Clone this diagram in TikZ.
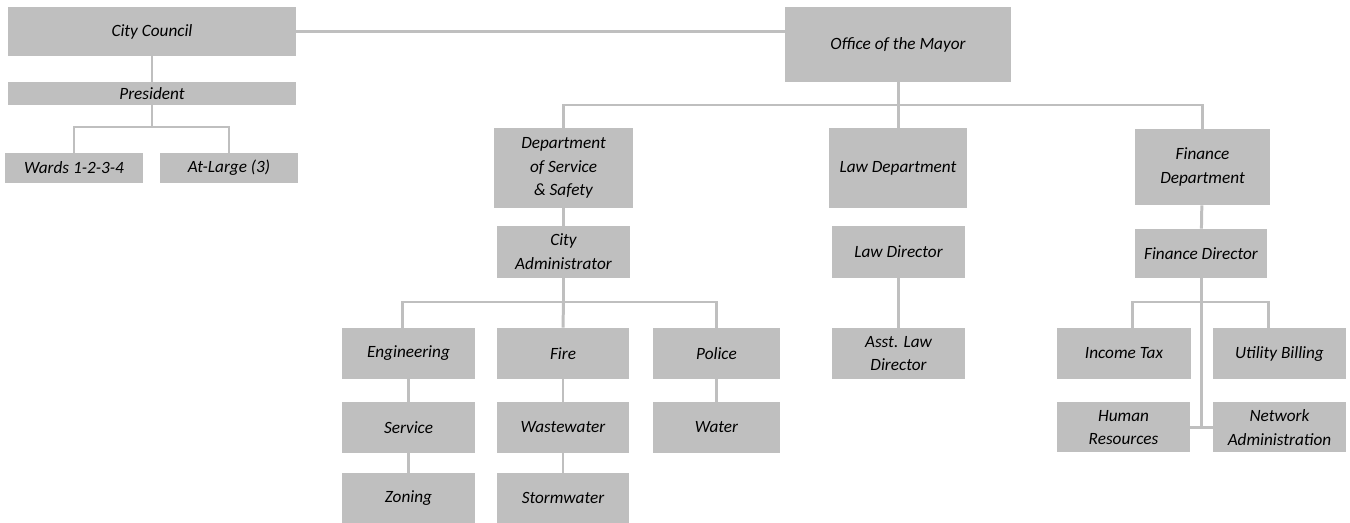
\documentclass[tikz,border=0pt]{standalone}
\usepackage{fontspec}
\setmainfont{Carlito}
\usepackage{tikz}
\usetikzlibrary{calc}
\definecolor{boxgray}{HTML}{BFBFBF}
\definecolor{linkgray}{HTML}{BFBFBF}

\begin{document}
\begin{tikzpicture}[x=0.02cm,y=-0.02cm,
  font=\fontsize{9.8}{13.5}\selectfont\itshape,
  orgbox/.style 2 args={fill=boxgray,inner sep=0pt,align=center,
    minimum width=#1*0.02cm,minimum height=#2*0.02cm},
  link/.style={draw=linkgray,line width=1.7pt}]
\useasboundingbox (0,0) rectangle (1350,523);

% council side
\node[orgbox={288}{49}] (council) at (152,31.5) {City Council};
\node[orgbox={288}{23}] (president) at (152,93.5) {President};
\node[orgbox={138}{30}] (wards) at (74,168) {Wards 1-2-3-4};
\node[orgbox={138}{30}] (atlarge) at (229,168) {At-Large (3)};

% mayor and departments
\node[orgbox={226}{75}] (mayor) at (898,44.5) {Office of the Mayor};
\node[orgbox={139}{80}] (safety) at (563.5,168) {Department\\of Service\\\& Safety};
\node[orgbox={138}{80}] (law) at (898,168) {Law Department};
\node[orgbox={135}{76}] (finance) at (1202.5,167) {Finance\\Department};

\node[orgbox={133}{52}] (cityadmin) at (563.5,252) {City\\Administrator};
\node[orgbox={133}{52}] (lawdir) at (898.5,252) {Law Director};
\node[orgbox={132}{49}] (findir) at (1201,253.5) {Finance Director};

% service & safety divisions
\node[orgbox={133}{51}] (engineering) at (408.5,353.5) {Engineering};
\node[orgbox={132}{51}] (fire) at (563,353.5) {Fire};
\node[orgbox={127}{51}] (police) at (716.5,353.5) {Police};
\node[orgbox={133}{51}] (service) at (408.5,427.5) {Service};
\node[orgbox={132}{51}] (wastewater) at (563,427.5) {Wastewater};
\node[orgbox={127}{51}] (water) at (716.5,427.5) {Water};
\node[orgbox={133}{50}] (zoning) at (408.5,498) {Zoning};
\node[orgbox={132}{50}] (stormwater) at (563,498) {Stormwater};

% law and finance divisions
\node[orgbox={133}{51}] (asstlaw) at (898.5,353.5) {Asst. Law\\Director};
\node[orgbox={134}{51}] (incometax) at (1124,353.5) {Income Tax};
\node[orgbox={133}{51}] (utility) at (1279.5,353.5) {Utility Billing};
\node[orgbox={133}{50}] (hr) at (1123.5,427.5) {Human\\Resources};
\node[orgbox={133}{50}] (network) at (1279.5,427.5) {Network\\Administration};

% connectors
\coordinate (pbar) at (152,127);
\coordinate (mbar) at (898,105);
\coordinate (abar) at (563.5,302);
\coordinate (fbar) at (1201,302);

\draw[link] (council.east) -- (council.east -| mayor.west);
\draw[link] (council) -- (president);
\draw[link] (president.south) -- (pbar);
\draw[link] (wards.north) |- (pbar) -| (atlarge.north);

\draw[link] (mayor) -- (law);
\draw[link] (safety.north) |- (mbar) -| (finance.north);
\draw[link] (safety) -- (cityadmin);
\draw[link] (finance) -- (findir);
\draw[link] (lawdir) -- (asstlaw);

\draw[link] (cityadmin.south) -- (abar);
\draw[link] ($(engineering.north)+(-6,0)$) |- (abar) -| (police.north);
\draw[link] (abar) -- (fire.north);
\draw[link] (engineering) -- (service);
\draw[link] (service) -- (zoning);
\draw[link] (fire) -- (wastewater);
\draw[link] (wastewater) -- (stormwater);
\draw[link] (police) -- (water);

\draw[link] (findir.south) -- (hr.east -| findir.south);
\draw[link] ($(incometax.north)+(8,0)$) |- (fbar) -| ($(utility.north)+(-11,0)$);
\draw[link] (hr.east) -- (network.west);

\end{tikzpicture}
\end{document}
